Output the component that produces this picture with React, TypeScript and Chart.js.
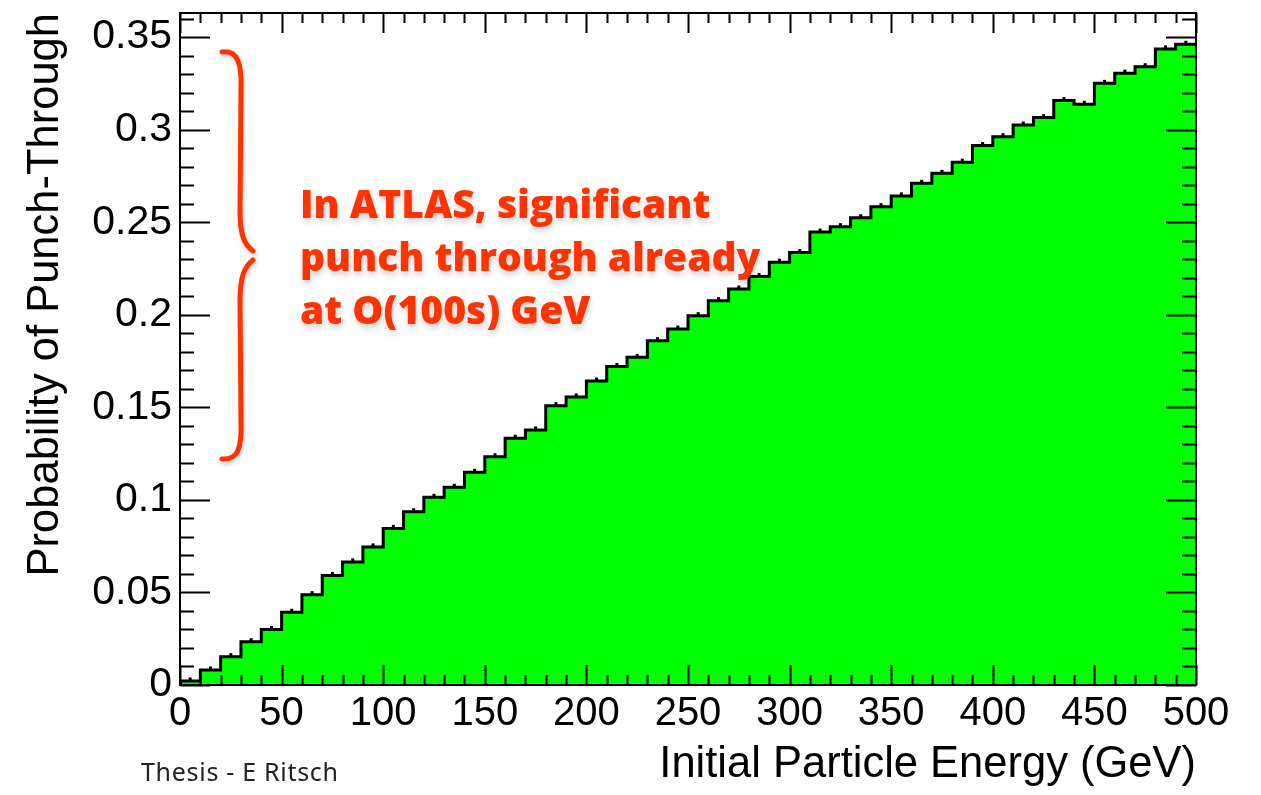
import React, { useEffect, useRef } from 'react';
import { Chart, registerables } from 'chart.js';

Chart.register(...registerables);

// Bin low edges (GeV), 10 GeV wide bins
const binLowEdges = [
  0, 10, 20, 30, 40, 50, 60, 70, 80, 90,
  100, 110, 120, 130, 140, 150, 160, 170, 180, 190,
  200, 210, 220, 230, 240, 250, 260, 270, 280, 290,
  300, 310, 320, 330, 340, 350, 360, 370, 380, 390,
  400, 410, 420, 430, 440, 450, 460, 470, 480, 490,
];
const binWidth = 10;
const lastEdge = 500;

// Probability of punch-through per bin
const punchThroughProb = [
  0.0022, 0.0081, 0.0153, 0.0234, 0.0300, 0.0393, 0.0488, 0.0592, 0.0665, 0.0746,
  0.0846, 0.0936, 0.1014, 0.1068, 0.1149, 0.1233, 0.1333, 0.1378, 0.1509, 0.1556,
  0.1642, 0.1720, 0.1770, 0.1860, 0.1923, 0.1995, 0.2076, 0.2139, 0.2206, 0.2284,
  0.2336, 0.2447, 0.2476, 0.2524, 0.2584, 0.2642, 0.2710, 0.2764, 0.2824, 0.2914,
  0.2962, 0.3025, 0.3065, 0.3157, 0.3137, 0.3250, 0.3305, 0.3340, 0.3436, 0.3461,
];

const xTickValues = [0, 50, 100, 150, 200, 250, 300, 350, 400, 450, 500];
const yTickLabels = ['0', '0.05', '0.1', '0.15', '0.2', '0.25', '0.3', '0.35'];
const yMax = 0.363;

const xTitle = 'Initial Particle Energy (GeV)';
const yTitle = 'Probability of Punch-Through';
const noteLines = ['In ATLAS, significant', 'punch through already', 'at O(100s) GeV'];
const creditText = 'Thesis - E Ritsch';

const FAMILY = "'Liberation Sans', Arial, sans-serif";
const X_TICK_FONT = { family: FAMILY, size: 40 };
const Y_TICK_FONT = { family: FAMILY, size: 41 };
const TITLE_FONT = { family: FAMILY, size: 43.5, lineHeight: 1.2 };

const frameTicksPlugin = {
  id: 'frameTicks',
  afterDatasetsDraw(chart: any) {
    const { ctx, chartArea: a, scales } = chart;
    const x = scales.x;
    const y = scales.y;
    ctx.save();
    ctx.strokeStyle = '#000';
    ctx.lineWidth = 2;
    const line = (x1: number, y1: number, x2: number, y2: number) => {
      ctx.beginPath();
      ctx.moveTo(x1, y1);
      ctx.lineTo(x2, y2);
      ctx.stroke();
    };
    for (let v = 0; v <= lastEdge; v += binWidth) {
      const px = Math.round(x.getPixelForValue(v)) + 0.5;
      const len = v % 50 === 0 ? 20 : 10;
      line(px, a.bottom, px, a.bottom - len);
      line(px, a.top, px, a.top + len);
    }
    for (let i = 0; i <= 36; i++) {
      const py = Math.round(y.getPixelForValue(i / 100)) + 0.5;
      const len = i % 5 === 0 ? 30 : 14;
      line(a.left, py, a.left + len, py);
      line(a.right, py, a.right - len, py);
    }
    ctx.strokeRect(a.left, a.top, a.right - a.left, a.bottom - a.top);
    ctx.restore();
  },
};

function HistogramChart() {
  const canvasRef = useRef<HTMLCanvasElement | null>(null);

  useEffect(() => {
    if (!canvasRef.current) return;
    // histogram outline: each bin value held from its low edge to the next edge
    const stepPoints = [{ x: binLowEdges[0], y: 0 }]
      .concat(binLowEdges.map((e, i) => ({ x: e, y: punchThroughProb[i] })))
      .concat([{ x: lastEdge, y: punchThroughProb[punchThroughProb.length - 1] }]);
    const errPoints = binLowEdges.map((e, i) => ({ x: e + binWidth / 2, y: punchThroughProb[i] }));

    const chart = new Chart(canvasRef.current, {
      type: 'line',
      data: {
        datasets: [
          {
            data: stepPoints,
            stepped: 'before',
            borderColor: '#000',
            borderWidth: 3,
            backgroundColor: '#00ff00',
            fill: 'origin',
            pointRadius: 0,
            tension: 0,
          } as any,
          {
            type: 'scatter',
            data: errPoints,
            pointStyle: 'line',
            rotation: 90,
            pointRadius: 3.5,
            borderColor: '#000',
            borderWidth: 3,
            backgroundColor: '#000',
          } as any,
        ],
      },
      options: {
        animation: false,
        responsive: true,
        maintainAspectRatio: false,
        events: [],
        layout: { padding: { top: 13, right: 65, left: 0, bottom: 0 } },
        plugins: { legend: { display: false }, tooltip: { enabled: false } },
        scales: {
          x: {
            type: 'linear',
            min: 0,
            max: lastEdge,
            grid: { display: false, drawTicks: false },
            border: { display: false },
            ticks: {
              stepSize: 50,
              includeBounds: false,
              maxRotation: 0,
              autoSkip: false,
              color: '#000',
              font: X_TICK_FONT,
              padding: 5,
              callback: (v: any) => (xTickValues.includes(Number(v)) ? String(v) : ''),
            },
            title: {
              display: true,
              text: xTitle,
              align: 'end',
              color: '#000',
              font: TITLE_FONT,
              padding: { top: 0, bottom: 4 },
            },
            afterFit: (s: any) => {
              s.height = 110;
              s.paddingLeft = 0;
              s.paddingRight = 0;
            },
          },
          y: {
            type: 'linear',
            min: 0,
            max: yMax,
            grid: { display: false, drawTicks: false },
            border: { display: false },
            ticks: {
              stepSize: 0.05,
              includeBounds: false,
              autoSkip: false,
              color: '#000',
              font: Y_TICK_FONT,
              padding: 8,
              callback: (v: any) => {
                const idx = Math.round(Number(v) / 0.05);
                return Math.abs(Number(v) - idx * 0.05) < 1e-6 ? yTickLabels[idx] ?? '' : '';
              },
            },
            title: {
              display: true,
              text: yTitle,
              align: 'end',
              color: '#000',
              font: TITLE_FONT,
              padding: { top: 20, bottom: 0 },
            },
            afterFit: (s: any) => {
              s.width = 180;
              s.paddingTop = 0;
              s.paddingBottom = 0;
            },
          },
        },
      },
      plugins: [frameTicksPlugin],
    } as any);
    return () => chart.destroy();
  }, []);

  return <canvas ref={canvasRef} />;
}

export default function App() {
  return (
    <div style={{ position: 'fixed', left: 0, top: 0, width: 1261, height: 795, background: '#fff', overflow: 'hidden' }}>
      <div style={{ position: 'absolute', left: 0, top: 0, width: 1261, height: 795 }}>
        <HistogramChart />
      </div>
      <svg
        width={1261}
        height={795}
        style={{ position: 'absolute', left: 0, top: 0, pointerEvents: 'none', overflow: 'visible' }}
      >
        <defs>
          <filter id="sh" x="-50%" y="-10%" width="200%" height="120%">
            <feDropShadow dx="1" dy="3" stdDeviation="2" floodColor="#000" floodOpacity="0.18" />
          </filter>
        </defs>
        <g filter="url(#sh)" fill="none" stroke="#ff3300" strokeWidth={5} strokeLinecap="round">
          <path d="M 222 52 C 237 50, 242 62, 241 90 L 240 212 C 240 236, 245 245, 253 251" />
          <path d="M 253 260 C 245 266, 240 276, 240 300 L 241 422 C 242 450, 237 460, 222 459" />
        </g>
      </svg>
      <div
        style={{
          position: 'absolute',
          left: 300,
          top: 176,
          fontFamily: "'Open Sans', Lato, sans-serif",
          fontWeight: 800,
          fontSize: 39,
          lineHeight: '53px',
          color: '#ff3300',
          whiteSpace: 'nowrap',
          textShadow: '1px 4px 6px rgba(0,0,0,0.18)',
        }}
      >
        {noteLines.map((l) => (
          <div key={l}>{l}</div>
        ))}
      </div>
      <div
        style={{
          position: 'absolute',
          left: 141,
          top: 759,
          fontFamily: "'Noto Sans', sans-serif",
          fontSize: 25,
          letterSpacing: '0.7px',
          lineHeight: '24px',
          color: '#222',
          whiteSpace: 'nowrap',
        }}
      >
        {creditText}
      </div>
    </div>
  );
}
